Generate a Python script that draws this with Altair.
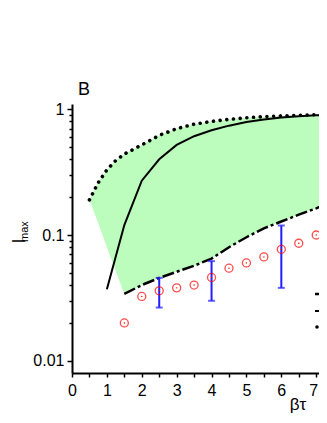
import altair as alt
import pandas as pd

# ---- data ----
# upper bound (dotted curve) and the lower edge of the green region
bound_x = [0.5, 0.75, 1.0, 1.25, 1.5, 2.0, 2.5, 3.0, 3.5, 4.0, 4.5, 5.0, 5.5, 6.0, 6.5, 7.0, 7.5]
upper_y = [0.19, 0.26, 0.33, 0.39, 0.44, 0.52, 0.62, 0.70, 0.76, 0.80, 0.83, 0.855, 0.873, 0.885, 0.895, 0.905, 0.915]
lower_y = [0.19, 0.125, 0.08, 0.052, 0.034, 0.040, 0.0456, 0.051, 0.057, 0.065, 0.080, 0.096, 0.113, 0.128, 0.145, 0.163, 0.185]

# solid curve
solid_x = [1.0, 1.5, 2.0, 2.5, 3.0, 3.5, 4.0, 4.5, 5.0, 5.5, 6.0, 6.5, 7.0, 7.5]
solid_y = [0.037, 0.12, 0.27, 0.40, 0.52, 0.61, 0.68, 0.74, 0.79, 0.83, 0.86, 0.88, 0.895, 0.905]

# dash-dot curve
dashdot_x = [1.5, 2.0, 2.5, 3.0, 3.5, 4.0, 4.5, 5.0, 5.5, 6.0, 6.5, 7.0, 7.5]
dashdot_y = [0.034, 0.040, 0.0456, 0.051, 0.057, 0.065, 0.080, 0.096, 0.113, 0.128, 0.145, 0.163, 0.185]

# red open circles
circ_x = [1.5, 2.0, 2.5, 3.0, 3.5, 4.0, 4.5, 5.0, 5.5, 6.0, 6.5, 7.0]
circ_y = [0.020, 0.0325, 0.036, 0.038, 0.040, 0.046, 0.0545, 0.060, 0.067, 0.077, 0.086, 0.100]

# blue error bars
err_x = [2.5, 4.0, 6.0]
err_lo = [0.0265, 0.030, 0.038]
err_hi = [0.0456, 0.062, 0.119]

x_ticks = [0, 0.5, 1, 1.5, 2, 2.5, 3, 3.5, 4, 4.5, 5, 5.5, 6, 6.5, 7]
y_ticks = [0.01, 0.02, 0.03, 0.04, 0.05, 0.06, 0.07, 0.08, 0.09,
           0.1, 0.2, 0.3, 0.4, 0.5, 0.6, 0.7, 0.8, 0.9, 1]

FONT = "Arial"

major_test = "abs(log(datum.value)/LN10 - round(log(datum.value)/LN10)) < 0.001"

x_axis = alt.Axis(values=x_ticks, title=None, grid=False, format="~g",
                  labelExpr="datum.value % 1 == 0 ? datum.label : ''",
                  labelFont=FONT, labelFontSize=16, labelColor="black",
                  labelOffset={"condition": {"test": "datum.value == 7", "value": -3}, "value": 0},
                  labelPadding=5, tickSize=4, tickWidth=1.5, tickColor="black",
                  domainColor="black", domainWidth=2, labelFlush=False)
y_axis = alt.Axis(values=y_ticks, title=None, grid=False, format="~g",
                  labelExpr=f"({major_test}) ? datum.label : ''",
                  labelFont=FONT, labelFontSize=16, labelColor="black",
                  labelPadding=3,
                  tickSize={"condition": {"test": major_test, "value": 5}, "value": 3},
                  tickWidth=1.5, tickColor="black",
                  domainColor="black", domainWidth=2, labelFlush=False)

xs = alt.Scale(domain=[0, 7.08], nice=False, zero=False)
ys = alt.Scale(type="log", domain=[0.008, 1.1], nice=False)


def X(field="x"):
    return alt.X(f"{field}:Q", scale=xs, axis=x_axis)


def Y(field="y"):
    return alt.Y(f"{field}:Q", scale=ys, axis=y_axis)


band_df = pd.DataFrame({"x": bound_x, "y": upper_y, "y2": lower_y})
upper_df = pd.DataFrame({"x": bound_x, "y": upper_y})
solid_df = pd.DataFrame({"x": solid_x, "y": solid_y})
dd_df = pd.DataFrame({"x": dashdot_x, "y": dashdot_y})
circ_df = pd.DataFrame({"x": circ_x, "y": circ_y})
err_df = pd.DataFrame({"x": err_x, "lo": err_lo, "hi": err_hi})

band = alt.Chart(band_df).mark_area(color="#bcfcbc", opacity=1, clip=True).encode(
    x=X(), y=Y(), y2="y2:Q")

upper = alt.Chart(upper_df).mark_line(color="black", strokeWidth=3.6, strokeCap="round",
                                      strokeDash=[0.01, 6.7], clip=True).encode(x=X(), y=Y())
solid = alt.Chart(solid_df).mark_line(color="black", strokeWidth=2, clip=True).encode(x=X(), y=Y())
dashdot = alt.Chart(dd_df).mark_line(color="black", strokeWidth=2.5, strokeDash=[12, 3, 3, 3],
                                     clip=True).encode(x=X(), y=Y())

err_rule = alt.Chart(err_df).mark_rule(color="#1f1fff", strokeWidth=2, clip=True).encode(
    x=X(), y=Y("lo"), y2="hi:Q")
err_cap_lo = alt.Chart(err_df).mark_tick(color="#1f1fff", orient="horizontal", size=7,
                                         thickness=2, clip=True).encode(x=X(), y=Y("lo"))
err_cap_hi = alt.Chart(err_df).mark_tick(color="#1f1fff", orient="horizontal", size=7,
                                         thickness=2, clip=True).encode(x=X(), y=Y("hi"))

circles = alt.Chart(circ_df).mark_point(shape="circle", filled=False, color="#ff0000",
                                        size=64, strokeWidth=1.3, clip=True).encode(x=X(), y=Y())
dots = alt.Chart(circ_df).mark_point(shape="circle", filled=True, color="#ff0000",
                                     size=2, opacity=1, clip=True).encode(x=X(), y=Y())

# legend glyphs (mostly cut off by the right edge)
leg1 = alt.Chart().mark_rule(color="black", strokeWidth=2.5, strokeDash=[12, 3, 3, 3], clip=True).encode(
    x=alt.value(243), x2=alt.value(275), y=alt.value(190))
leg2 = alt.Chart().mark_rule(color="black", strokeWidth=2, clip=True).encode(
    x=alt.value(243), x2=alt.value(275), y=alt.value(207))
leg3 = alt.Chart().mark_rule(color="black", strokeWidth=3.6, strokeCap="round",
                             strokeDash=[0.01, 6.7], clip=True).encode(
    x=alt.value(245), x2=alt.value(275), y=alt.value(223))
leg4 = alt.Chart().mark_point(shape="circle", filled=False, color="#ff0000", size=64,
                              strokeWidth=1.3, clip=True).encode(
    x=alt.value(259), y=alt.value(238))

# texts
t_B = alt.Chart().mark_text(text="B", font=FONT, fontSize=18, align="left",
                            baseline="alphabetic", color="black").encode(
    x=alt.value(6), y=alt.value(-9))
t_I = alt.Chart().mark_text(text="I", font=FONT, fontSize=18, align="center",
                            baseline="alphabetic", angle=270, color="black").encode(
    x=alt.value(-47.5), y=alt.value(137))
t_max = alt.Chart().mark_text(text="max", font=FONT, fontSize=11, align="left",
                              baseline="alphabetic", angle=270, color="black").encode(
    x=alt.value(-44), y=alt.value(138))
t_bt = alt.Chart().mark_text(text="βτ", font=FONT, fontSize=17, align="center",
                             baseline="alphabetic", color="black").encode(
    x=alt.value(226), y=alt.value(306))

chart = alt.layer(
    band, upper, solid, dashdot, err_rule, err_cap_lo, err_cap_hi, circles, dots,
    leg1, leg2, leg3, leg4, t_B, t_I, t_max, t_bt
).properties(
    width=247, height=269,
    autosize=alt.AutoSizeParams(type="none"),
    padding={"left": 64, "top": 96, "right": 0, "bottom": 42},
).configure_view(stroke=None)

chart.save("out.html", embed_options={"renderer": "svg", "actions": False})
